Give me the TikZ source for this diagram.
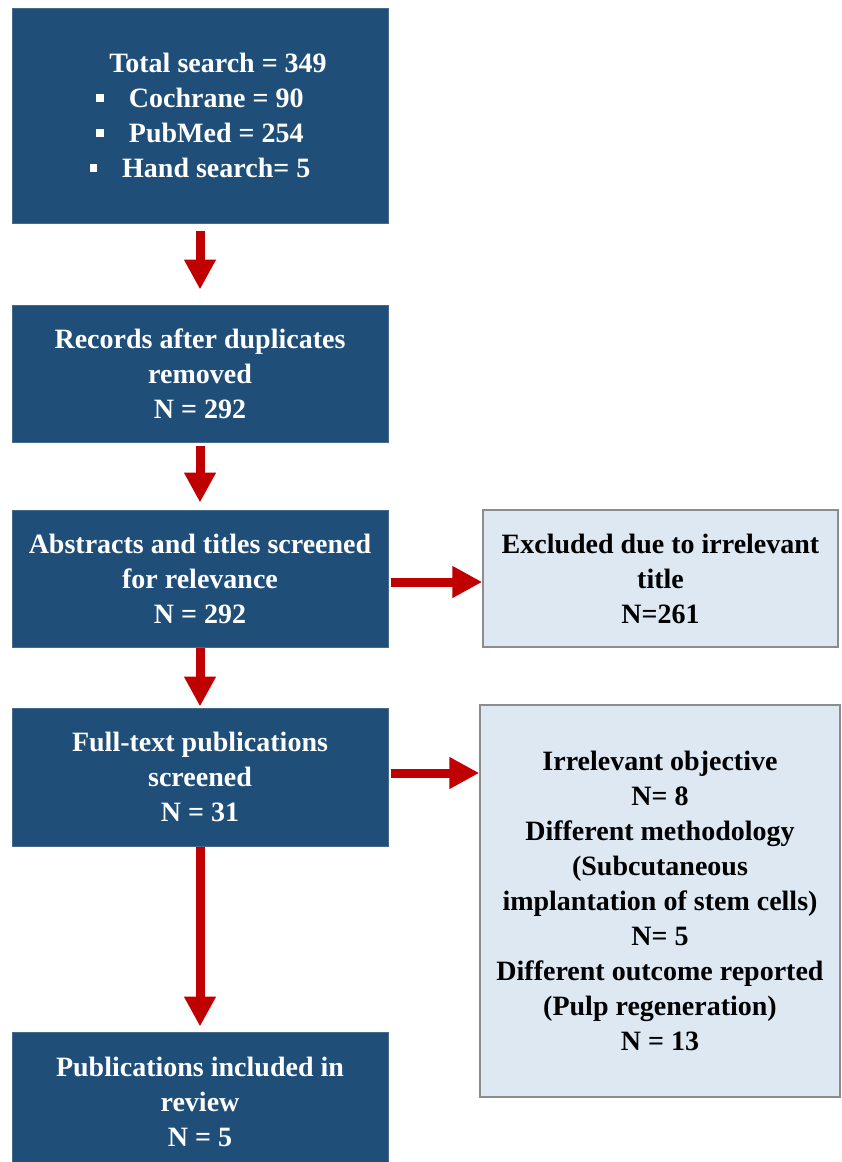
\documentclass[tikz,border=0pt]{standalone}
\usepackage{fontspec}
\setmainfont{Liberation Serif}
\usetikzlibrary{arrows.meta,calc}
\definecolor{boxblue}{RGB}{31,78,121}
\definecolor{boxblueedge}{RGB}{70,105,140}
\definecolor{lightfill}{RGB}{221,232,243}
\definecolor{lightedge}{RGB}{140,140,140}
\definecolor{arrowred}{RGB}{192,0,0}
\newcommand{\sqbul}{\rule[6pt]{7.5pt}{7.5pt}\hspace{25pt}}
\begin{document}
\begin{tikzpicture}[x=1pt,y=-1pt,
  darkbox/.style={fill=boxblue, draw=boxblueedge, line width=1pt, text=white,
    align=center, inner sep=0pt, font=\fontsize{28}{35}\selectfont\bfseries},
  lightbox/.style={fill=lightfill, draw=lightedge, line width=1.5pt, text=black,
    align=center, inner sep=0pt, font=\fontsize{28}{35}\selectfont\bfseries},
  redarrow/.style={draw=arrowred, line width=9pt, -{Triangle[width=30pt,length=30pt]}}]
\useasboundingbox (0,0) rectangle (842,1162);

\node[darkbox, minimum width=376pt, minimum height=215pt] (b1) at (200,115.5)
  {\hspace*{36pt}Total search = 349\\
   \sqbul Cochrane = 90\\
   \sqbul PubMed = 254\\
   \sqbul Hand search= 5};
\node[darkbox, minimum width=376pt, minimum height=137pt] (b2) at (200,373.5)
  {Records after duplicates\\ removed\\ N = 292};
\node[darkbox, minimum width=376pt, minimum height=137pt] (b3) at (200,578.5)
  {Abstracts and titles screened\\ for relevance\\ N = 292};
\node[darkbox, minimum width=376pt, minimum height=138pt] (b4) at (200,777)
  {Full-text publications\\ screened\\ N = 31};
\node[darkbox, minimum width=376pt, minimum height=140pt] (b5) at (200,1102)
  {Publications included in\\ review\\ N = 5};

\node[lightbox, minimum width=355pt, minimum height=137pt] (r1) at (660.5,578.5)
  {Excluded due to irrelevant\\ title\\ N=261};
\node[lightbox, minimum width=360pt, minimum height=392pt] (r2) at (660,901)
  {Irrelevant objective\\ N= 8\\ Different methodology\\ (Subcutaneous\\
   implantation of stem cells)\\ N= 5\\ Different outcome reported\\
   (Pulp regeneration)\\ N = 13};

\draw[redarrow, shorten <=7pt, shorten >=15pt] (b1.south) -- (b2.north);
\draw[redarrow, shorten <=3pt, shorten >=7pt] (b2.south) -- (b3.north);
\draw[redarrow, shorten >=1pt] (b3.south) -- (b4.north);
\draw[redarrow, shorten >=5pt] (b4.south) -- (b5.north);

\coordinate (a1) at ($(b3.east)+(0,3.5)$);
\draw[redarrow, shorten <=2pt] (a1) -- (a1 -| r1.west);
\coordinate (a2) at ($(b4.east)+(0,-4)$);
\draw[redarrow, shorten <=2pt] (a2) -- (a2 -| r2.west);
\end{tikzpicture}
\end{document}
